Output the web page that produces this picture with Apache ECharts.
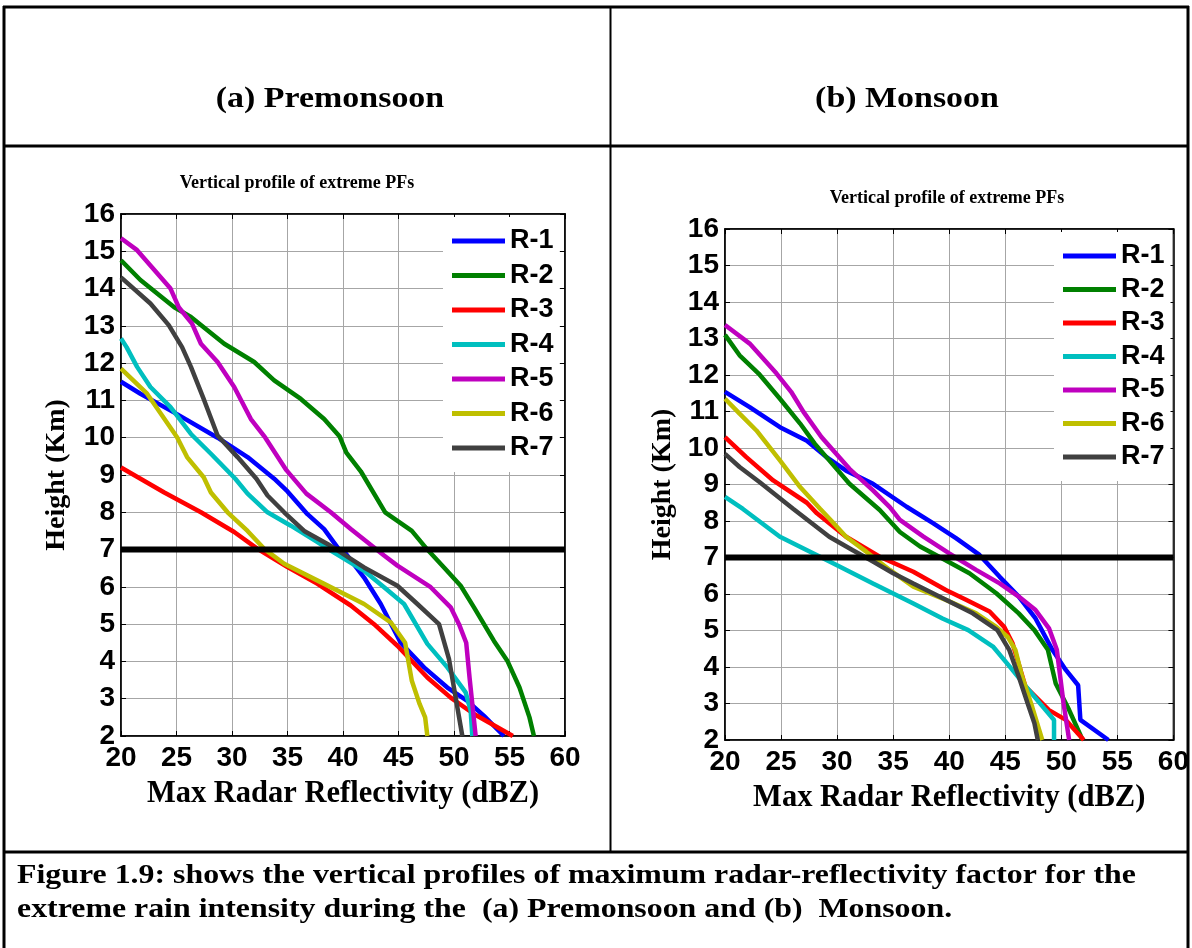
<!DOCTYPE html>
<html>
<head>
<meta charset="utf-8">
<script src="https://cdn.jsdelivr.net/npm/echarts@6/dist/echarts.min.js"></script>
<style>
html,body{margin:0;padding:0;background:#fff;}
#chart{width:1192px;height:948px;}
</style>
</head>
<body>
<div id="chart"></div>
<script>
// ---- Data ----
const seriesNames = ['R-1','R-2','R-3','R-4','R-5','R-6','R-7'];
const seriesColors = ['#0000ff','#008000','#ff0000','#00bfbf','#bf00bf','#bfbf00','#404040'];

// (a) Premonsoon : [dBZ, height km]
const pre_R1 = [[20,11.5],[21.75,11.18],[25,10.64],[28.7,10.0],[31.4,9.48],[33.8,8.9],[35,8.56],[36.8,7.95],[38.3,7.55],[39.6,7.02],[40.1,6.95],[41.9,6.25],[43.4,5.54],[45.2,4.5],[47.3,3.84],[49.4,3.3],[51.2,2.94],[52.7,2.54],[54.5,2.0]];
const pre_R2 = [[20,14.76],[21.75,14.23],[24.8,13.5],[26.3,13.24],[29.3,12.52],[32,12.03],[33.8,11.54],[36.2,11.04],[38.3,10.5],[39.7,10.03],[40.3,9.6],[41.6,9.1],[43.8,8.0],[46.2,7.5],[47.6,7.0],[49.1,6.52],[50.6,6.03],[51.8,5.45],[53.6,4.55],[54.8,4.02],[55.9,3.3],[56.8,2.5],[57.2,2.0]];
const pre_R3 = [[20,9.2],[23.9,8.53],[27.2,8.0],[30.2,7.47],[32.3,7.02],[35,6.53],[37.7,6.08],[40.7,5.5],[42.8,5.0],[44.9,4.42],[47.6,3.57],[49.7,3.03],[51.8,2.59],[55.3,2.0]];
const pre_R4 = [[20,12.66],[20.5,12.43],[21.45,11.9],[22.65,11.36],[24.46,10.82],[26.3,10.1],[28.1,9.57],[30.3,8.9],[31.4,8.5],[33.2,8.0],[35.3,7.64],[37.7,7.2],[38.9,6.97],[41.9,6.43],[43.7,5.99],[45.5,5.54],[47.6,4.47],[49.4,3.84],[51.05,3.17],[51.5,2.68],[51.65,2.0]];
const pre_R5 = [[20,15.35],[21.45,15.03],[24.46,14.0],[25.2,13.5],[26.4,13.06],[27.2,12.52],[28.7,12.03],[30.2,11.36],[31.7,10.5],[33,10.0],[34.9,9.13],[36.7,8.5],[38.9,8.0],[40.7,7.55],[43.7,6.84],[44.9,6.57],[47.9,5.99],[49.7,5.45],[50.45,5.0],[51.1,4.5],[51.4,3.57],[51.65,2.86],[51.95,2.0]];
const pre_R6 = [[20,11.85],[22.35,11.18],[25.05,10.01],[25.95,9.48],[27.45,8.94],[28.1,8.53],[29.6,8.0],[31.4,7.5],[32.9,7.02],[34.7,6.62],[38.3,6.08],[40.7,5.72],[41.9,5.54],[44.3,5.05],[45.6,4.5],[46.2,3.48],[46.9,2.86],[47.4,2.5],[47.6,2.0]];
const pre_R7 = [[20,14.3],[22.65,13.6],[24.3,13.02],[25.5,12.43],[26.3,11.9],[27.5,11.0],[28.7,10.06],[30.5,9.48],[32.2,8.9],[33.2,8.45],[34.7,8.0],[36.5,7.5],[38.6,7.15],[41.9,6.52],[44.9,6.03],[46.7,5.54],[48.65,5.0],[49.55,4.06],[50.15,3.03],[50.75,2.0]];

// (b) Monsoon
const mon_R1 = [[20,11.54],[22.2,11.12],[24.9,10.57],[27.3,10.2],[29.05,9.75],[30.8,9.38],[33.2,9.02],[36.2,8.39],[38.55,7.94],[40.6,7.53],[42.7,7.07],[44.5,6.47],[46.2,5.93],[47.7,5.33],[49.2,4.47],[50.4,3.92],[51.5,3.5],[51.7,2.55],[54.2,2.0]];
const mon_R2 = [[20,13.1],[21.3,12.54],[23,12.04],[24.9,11.35],[26.7,10.67],[28,10.12],[29.05,9.75],[31.1,9.02],[33.8,8.3],[35.6,7.7],[37.4,7.3],[39.1,7.02],[41.8,6.57],[44.2,6.02],[46.2,5.47],[47.6,5.01],[48.8,4.47],[49.5,3.55],[50.7,2.82],[51.9,2.0]];
const mon_R3 = [[20,10.3],[21.9,9.75],[24.3,9.11],[27.3,8.5],[28.2,8.21],[30.8,7.57],[33.8,7.02],[36.8,6.61],[39.7,6.11],[41.5,5.84],[43.6,5.52],[44.9,5.1],[45.65,4.65],[46.8,3.46],[48.9,2.82],[50.4,2.55],[52.0,2.0]];
const mon_R4 = [[20,8.66],[21.6,8.33],[24.9,7.57],[27.9,7.11],[29.9,6.8],[33.2,6.29],[36.8,5.74],[39.4,5.33],[41.7,5.01],[43.9,4.56],[45.4,4.01],[47.1,3.37],[48.6,2.82],[49.35,2.55],[49.35,2.0]];
const mon_R5 = [[20,13.37],[22.2,12.86],[24.6,12.04],[25.9,11.54],[27,10.99],[28.6,10.3],[31.1,9.43],[33.2,8.84],[34.7,8.38],[35.6,8.03],[37.7,7.57],[40,7.11],[42.4,6.66],[44.5,6.29],[46.2,5.93],[47.7,5.56],[48.9,5.06],[49.6,4.47],[49.9,3.74],[50.2,3.0],[50.7,2.0]];
const mon_R6 = [[20,11.35],[21.3,10.94],[22.8,10.48],[24.9,9.66],[26.7,8.93],[28.5,8.33],[29.3,8.07],[30.8,7.57],[32.6,7.16],[34.7,6.66],[36.8,6.2],[39.7,5.84],[42.4,5.47],[44.2,5.1],[45.2,4.83],[45.9,4.47],[46.5,3.74],[47.4,2.91],[48.3,2.0]];
const mon_R7 = [[20,9.84],[21.3,9.48],[23.1,9.06],[26.1,8.33],[29.3,7.57],[31.4,7.2],[33.2,6.89],[35,6.57],[36.8,6.29],[39.7,5.84],[42.1,5.47],[44.3,5.01],[45.35,4.47],[46.2,3.74],[47,3.0],[47.6,2.46],[47.9,2.0]];

// 7 km reference line
const refLine = [[20,7],[60,7]];

// Axis ranges / ticks
const xMin = 20, xMax = 60, xStep = 5;
const yMin = 2, yMax = 16, yStep = 1;

// Texts
const headerA = '(a) Premonsoon';
const headerB = '(b) Monsoon';
const plotTitle = 'Vertical profile of extreme PFs';
const xName = 'Max Radar Reflectivity (dBZ)';
const yName = 'Height (Km)';
const caption1 = 'Figure 1.9: shows the vertical profiles of maximum radar-reflectivity factor for the';
const caption2 = 'extreme rain intensity during the  (a) Premonsoon and (b)  Monsoon.';

// ---- Chart ----
const preData = [pre_R1,pre_R2,pre_R3,pre_R4,pre_R5,pre_R6,pre_R7];
const monData = [mon_R1,mon_R2,mon_R3,mon_R4,mon_R5,mon_R6,mon_R7];

const SANS = '"Liberation Sans", Arial, sans-serif';
const SERIF = '"Liberation Serif", "Times New Roman", serif';

const grids = [
  {left:121, top:214, width:444, height:522},
  {left:725, top:229, width:450, height:511}
];

function mkX(gi, pos){
  const main = pos === 'bottom';
  return {
    type:'value', gridIndex:gi, position:pos, min:xMin, max:xMax, interval:xStep,
    axisLine:{show:true, onZero:false, lineStyle:{color:'#000', width:1.5}},
    axisTick:{show:true, inside:true, length:5, lineStyle:{color:'#000'}},
    axisLabel:{show:main, color:'#000', fontFamily:SANS, fontWeight:'bold', fontSize:28, margin:8},
    splitLine:{show:main, lineStyle:{color:'#a6a6a6', width:1}},
    name: main ? xName : '', nameLocation:'middle', nameGap:43,
    nameTextStyle:{color:'#000', fontFamily:SERIF, fontWeight:'bold', fontSize:30.5}
  };
}
function mkY(gi, pos, gap){
  const main = pos === 'left';
  return {
    type:'value', gridIndex:gi, position:pos, min:yMin, max:yMax, interval:yStep,
    axisLine:{show:true, onZero:false, lineStyle:{color:'#000', width:1.5}},
    axisTick:{show:true, inside:true, length:5, lineStyle:{color:'#000'}},
    axisLabel:{show:main, color:'#000', fontFamily:SANS, fontWeight:'bold', fontSize:28, margin:6},
    splitLine:{show:main, lineStyle:{color:'#a6a6a6', width:1}},
    name: main ? yName : '', nameLocation:'middle', nameGap:gap,
    nameTextStyle:{color:'#000', fontFamily:SERIF, fontWeight:'bold', fontSize:28}
  };
}

const series = [];
[preData, monData].forEach((set, gi) => {
  set.forEach((d, i) => {
    series.push({
      type:'line', name:seriesNames[i], xAxisIndex:gi*2, yAxisIndex:gi*2,
      data:d, showSymbol:false, symbol:'none', clip:true,
      lineStyle:{color:seriesColors[i], width:4.5}, itemStyle:{color:seriesColors[i]},
      emphasis:{disabled:true}, z:3
    });
  });
  series.push({
    type:'line', name:'7 km', xAxisIndex:gi*2, yAxisIndex:gi*2,
    data:refLine, showSymbol:false, symbol:'none',
    lineStyle:{color:'#000', width:6}, z:4, emphasis:{disabled:true}
  });
});

function mkLegend(left, top, gap){
  return {
    data:seriesNames, orient:'vertical', left:left, top:top,
    itemWidth:53, itemHeight:5, itemGap:gap, padding:[10,6,10,9],
    backgroundColor:'#fff',
    icon:'rect',
    textStyle:{color:'#000', fontFamily:SANS, fontWeight:'bold', fontSize:27, lineHeight:28},
    selectedMode:false
  };
}

const LW = 3;
const graphic = [
  // frame
  {type:'line', shape:{x1:3, y1:7, x2:1189, y2:7}, style:{stroke:'#000', lineWidth:LW}},
  {type:'line', shape:{x1:4, y1:6, x2:4, y2:948}, style:{stroke:'#000', lineWidth:LW}},
  {type:'line', shape:{x1:1188, y1:6, x2:1188, y2:948}, style:{stroke:'#000', lineWidth:LW}},
  {type:'line', shape:{x1:3, y1:146, x2:1189, y2:146}, style:{stroke:'#000', lineWidth:LW}},
  {type:'line', shape:{x1:610.5, y1:7, x2:610.5, y2:852}, style:{stroke:'#000', lineWidth:2}},
  {type:'line', shape:{x1:3, y1:852, x2:1189, y2:852}, style:{stroke:'#000', lineWidth:LW}},
  // headers
  {type:'text', x:330, y:100, scaleX:1.17, style:{text:headerA, fill:'#000', font:'bold 29px '+SERIF, align:'center', verticalAlign:'middle'}},
  {type:'text', x:907, y:100, scaleX:1.17, style:{text:headerB, fill:'#000', font:'bold 29px '+SERIF, align:'center', verticalAlign:'middle'}},
  // plot titles
  {type:'text', x:297, y:183, style:{text:plotTitle, fill:'#000', font:'bold 18px '+SERIF, align:'center', verticalAlign:'middle'}},
  {type:'text', x:947, y:198, style:{text:plotTitle, fill:'#000', font:'bold 18px '+SERIF, align:'center', verticalAlign:'middle'}},
  // caption
  {type:'text', x:17, y:876, scaleX:1.18, style:{text:caption1, fill:'#000', font:'bold 27px '+SERIF, align:'left', verticalAlign:'middle'}},
  {type:'text', x:17, y:910, scaleX:1.18, style:{text:caption2, fill:'#000', font:'bold 27px '+SERIF, align:'left', verticalAlign:'middle'}}
];

const option = {
  backgroundColor:'#fff',
  animation:false,
  grid: grids.map(g => Object.assign({show:true, borderColor:'#000', borderWidth:1.5, backgroundColor:'#fff', containLabel:false}, g)),
  xAxis:[mkX(0,'bottom'), mkX(0,'top'), mkX(1,'bottom'), mkX(1,'top')],
  yAxis:[mkY(0,'left',50), mkY(0,'right',0), mkY(1,'left',48), mkY(1,'right',0)],
  legend:[mkLegend(443, 217, 6.5), mkLegend(1054, 232, 5.5)],
  series: series,
  graphic: graphic
};

const chart = echarts.init(document.getElementById('chart'), null, {renderer:'canvas'});
chart.setOption(option);
</script>
</body>
</html>
